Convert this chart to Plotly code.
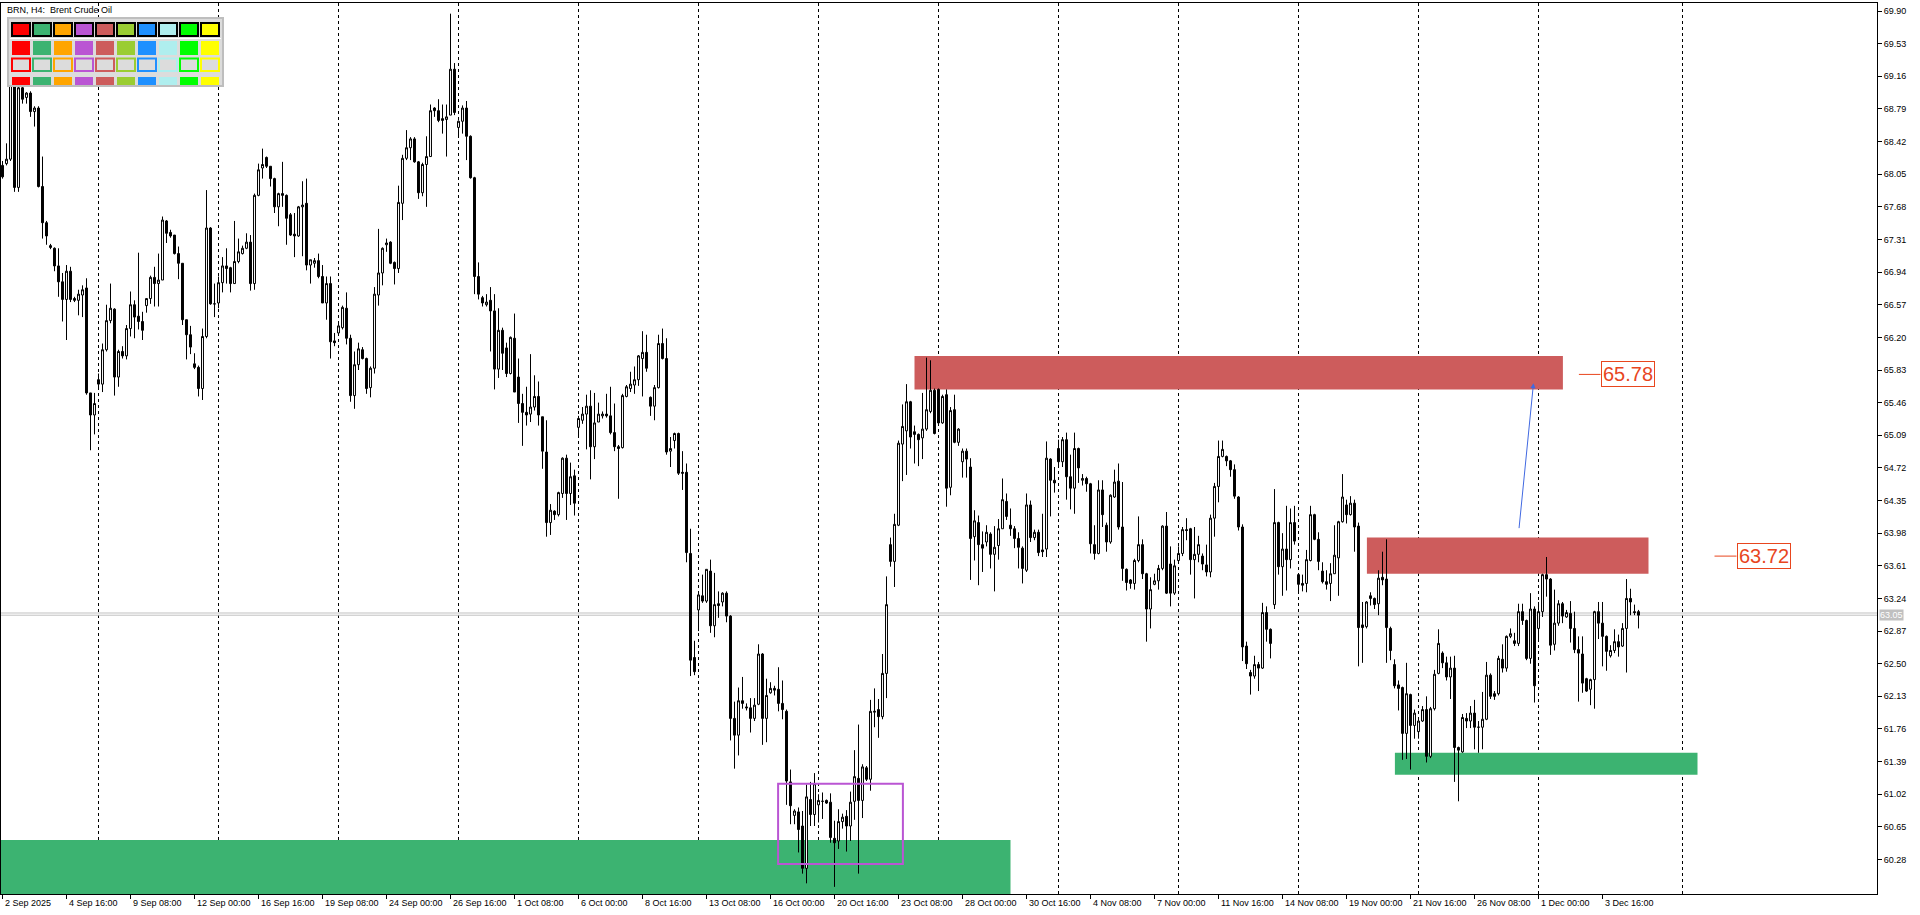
import plotly.graph_objects as go

# ---------------- data (H4 candles) ----------------
O = [68.15,68.17,68.22,69.05,67.90,69.03,68.92,68.97,68.76,68.80,
67.91,67.50,67.24,67.21,67.01,66.83,66.63,66.95,66.64,66.62,
66.68,66.76,65.57,65.32,65.72,65.67,66.06,66.39,66.52,65.75,
66.04,65.99,66.30,66.57,66.44,66.38,66.56,66.64,66.88,66.81,
66.85,67.52,67.39,67.36,67.15,67.04,66.40,66.23,65.90,65.86,
65.62,66.21,67.44,66.58,66.59,66.82,67.01,66.99,66.81,67.06,
67.15,67.21,67.28,66.81,67.81,68.12,68.24,68.14,68.00,67.68,
67.83,67.81,67.59,67.37,67.35,67.68,67.72,67.02,67.04,67.07,
66.89,66.59,66.81,66.16,66.25,66.31,66.53,66.19,65.54,65.89,
66.06,65.96,65.63,65.85,66.68,66.93,67.25,67.28,67.05,66.98,
67.72,68.23,68.35,68.45,68.19,67.84,68.16,68.25,68.80,68.77,
68.68,68.67,68.72,69.24,68.58,68.65,68.80,68.48,68.01,66.89,
66.65,66.57,66.62,66.50,65.84,66.28,66.08,65.79,66.19,65.75,
65.45,65.35,65.33,65.41,65.53,65.30,64.90,64.10,64.23,64.19,
64.43,64.83,64.43,64.63,65.18,65.26,65.33,65.42,64.96,65.24,
65.31,65.33,65.31,65.12,64.96,64.95,65.53,65.62,65.66,65.72,
65.96,66.03,65.52,65.42,65.63,66.13,65.96,64.91,65.03,65.11,
64.67,64.67,63.75,62.57,63.11,63.27,63.21,63.55,62.93,63.18,
63.20,63.30,63.04,61.88,61.69,62.08,62.01,62.00,61.88,62.04,
62.61,61.88,62.17,62.22,62.21,62.05,61.96,61.16,60.78,60.82,
60.66,60.18,60.96,60.79,60.90,60.94,60.95,60.93,60.52,60.49,
60.71,60.77,60.66,60.94,61.20,60.95,61.32,61.19,61.95,61.98,
61.90,62.39,63.85,63.66,64.07,64.99,65.14,65.47,65.13,65.10,
65.06,65.16,65.36,65.60,65.61,65.23,65.55,64.50,65.38,65.01,
64.79,64.91,64.73,63.94,64.10,63.85,63.88,63.97,63.74,63.84,
64.03,64.34,64.07,64.03,63.92,63.81,63.56,64.30,63.93,63.99,
63.79,63.80,64.82,64.58,64.94,64.79,65.04,64.62,64.49,64.94,
64.58,64.60,64.54,63.85,63.75,64.47,64.07,63.88,64.39,64.57,
64.05,63.57,63.45,63.41,63.67,63.85,63.52,63.12,63.40,63.44,
63.58,64.06,63.63,63.30,63.67,63.75,64.02,64.03,63.68,63.74,
63.72,63.62,63.54,64.15,64.51,64.85,64.85,64.80,64.70,64.39,
64.05,62.70,62.40,62.36,62.49,62.45,63.08,62.89,63.17,64.10,
63.60,63.80,63.68,64.10,63.51,63.41,63.41,63.67,64.19,63.91,
63.55,63.43,63.41,63.52,63.70,64.11,64.30,64.19,64.32,64.06,
62.94,62.92,63.27,63.24,63.18,63.48,63.46,62.90,62.49,62.26,
62.23,61.71,62.15,61.80,61.73,61.85,61.98,61.45,61.99,62.39,
62.62,62.51,62.35,62.45,61.55,61.50,61.88,61.85,61.94,61.78,
61.78,61.87,62.37,62.16,62.16,62.55,62.45,62.81,62.76,62.73,
63.09,62.99,62.56,63.12,62.90,63.09,63.51,63.46,62.72,62.96,
63.18,63.03,63.07,62.90,62.66,62.61,62.33,62.21,62.32,63.09,
62.96,62.81,62.59,62.65,62.75,62.70,62.90,63.24,63.09,63.09]

H = [68.20,68.40,69.20,69.20,69.10,69.08,68.98,68.99,68.82,68.82,
68.25,67.52,67.26,67.22,67.21,66.93,67.02,67.00,66.66,66.74,
66.79,66.87,65.57,65.57,65.79,66.13,66.57,66.81,66.53,66.06,
66.10,66.34,66.72,66.62,67.16,66.49,66.64,66.90,67.00,67.15,
67.57,67.53,67.42,67.36,67.23,67.04,66.40,66.33,66.02,65.88,
66.30,67.87,67.45,66.81,66.89,67.11,67.21,67.00,67.52,67.32,
67.24,67.38,67.36,67.83,68.17,68.34,68.25,68.14,68.01,67.84,
68.19,67.82,67.61,67.61,67.69,67.97,68.00,67.08,67.10,67.15,
67.02,66.89,66.89,66.25,66.37,66.56,66.71,66.23,66.04,66.14,
66.09,65.97,65.87,66.77,67.43,67.22,67.32,67.29,67.06,67.92,
68.27,68.55,68.47,68.47,68.20,68.18,68.48,68.84,68.81,68.90,
68.84,68.84,69.87,69.31,68.66,68.83,68.88,68.49,68.02,67.05,
66.67,66.69,66.77,66.69,66.53,66.31,66.14,66.21,66.47,65.96,
65.56,65.64,66.01,65.77,65.70,65.30,65.26,64.31,64.24,64.45,
64.84,64.87,64.78,64.70,65.31,65.41,65.55,65.60,65.57,65.46,
65.36,65.56,65.64,65.45,64.98,65.56,65.66,65.81,65.87,66.00,
66.27,66.23,65.53,65.66,66.23,66.30,66.19,65.07,65.12,65.12,
64.91,64.77,64.03,62.76,63.30,63.51,63.57,63.68,63.53,63.32,
63.31,63.32,63.05,62.07,62.23,62.35,62.05,62.11,62.11,62.72,
62.62,62.33,62.29,62.25,62.46,62.31,61.98,61.30,60.85,60.87,
60.83,61.13,61.16,61.26,61.02,61.04,60.96,61.03,60.72,60.85,
60.80,60.84,61.05,61.52,61.81,61.36,61.34,62.09,62.22,62.10,
62.61,63.49,63.93,64.20,65.03,65.44,65.67,65.48,65.20,65.11,
65.57,65.97,65.94,65.62,65.62,65.55,65.61,65.41,65.55,65.17,
64.94,64.94,64.83,64.24,64.18,64.00,64.07,63.99,64.06,64.14,
64.60,64.43,64.26,64.06,63.99,63.83,64.43,64.35,64.02,64.02,
64.20,65.02,64.83,64.73,65.04,65.07,65.12,64.87,65.12,64.95,
64.65,64.62,64.55,64.07,64.58,64.58,64.10,64.42,64.70,64.77,
64.56,63.58,63.46,63.69,64.17,63.91,63.53,63.48,63.52,63.62,
64.07,64.22,63.83,63.68,63.83,64.05,64.15,64.04,64.05,63.95,
63.75,63.85,64.19,64.55,65.03,65.03,64.86,64.81,64.76,64.40,
64.08,62.75,62.43,62.59,62.52,63.19,63.15,62.90,64.48,64.11,
63.98,64.29,64.26,64.29,63.52,63.51,63.79,64.29,64.20,63.99,
63.65,63.56,63.64,64.07,64.12,64.65,64.36,64.40,64.36,64.10,
63.20,63.21,63.31,63.25,63.56,63.77,63.91,62.92,62.55,62.31,
62.24,62.51,62.16,61.98,61.88,62.02,62.13,62.01,62.43,62.89,
62.64,62.58,62.58,62.59,61.56,61.93,61.94,62.02,62.09,61.85,
62.18,62.52,62.39,62.19,62.59,62.72,62.82,62.90,62.85,63.18,
63.18,63.00,63.30,63.15,63.20,63.52,63.71,63.47,63.34,63.22,
63.20,63.11,63.21,63.09,62.81,62.81,62.34,62.33,63.10,63.20,
63.20,62.82,62.71,62.89,62.83,62.96,63.46,63.35,63.17,63.11]

L = [68.00,68.15,68.20,67.85,67.85,68.85,68.85,68.70,68.59,67.90,
67.32,67.25,67.20,66.95,66.66,66.38,66.17,66.60,66.60,66.45,
66.43,65.55,64.92,65.10,65.62,65.58,66.04,66.36,65.54,65.64,
65.96,65.95,66.21,66.19,66.29,66.17,66.48,66.58,66.55,66.55,
66.85,67.27,67.33,67.14,66.86,66.34,65.95,66.01,65.84,65.53,
65.49,66.19,66.57,66.43,66.53,66.71,66.81,66.71,66.81,67.04,
67.14,67.20,66.73,66.74,67.80,68.00,68.12,67.91,67.61,67.46,
67.68,67.25,67.35,67.11,67.34,67.12,66.96,66.81,66.99,66.87,
66.59,66.40,65.96,66.10,66.23,66.29,66.12,65.47,65.39,65.83,
65.95,65.56,65.52,65.79,66.56,66.79,67.17,67.03,66.80,66.93,
67.53,68.21,68.21,68.18,67.77,67.80,67.68,68.25,68.70,68.64,
68.51,68.25,68.72,68.72,68.48,68.51,68.21,68.00,66.69,66.63,
66.55,66.55,66.04,65.61,65.74,65.83,65.75,65.78,65.58,65.23,
64.97,65.20,65.24,65.37,65.20,64.71,63.94,63.96,64.13,64.17,
64.38,64.13,64.30,64.18,65.06,65.22,64.93,64.59,64.82,65.24,
65.28,65.29,65.10,64.91,64.37,64.94,65.52,65.58,65.56,65.65,
65.53,65.81,65.31,65.26,65.62,65.95,64.87,64.73,64.94,64.64,
64.47,63.65,62.36,62.37,62.87,63.19,63.19,62.85,62.80,63.02,
63.15,62.97,61.63,61.31,61.46,61.99,61.97,61.72,61.85,62.03,
61.58,61.61,62.16,62.14,61.96,61.87,60.90,60.68,60.68,60.36,
60.12,60.01,60.66,60.66,60.70,60.74,60.91,60.47,59.97,60.40,
60.63,60.37,60.49,60.73,60.12,60.75,61.17,61.06,61.78,61.66,
61.87,62.11,63.60,63.37,64.06,64.57,64.64,64.94,64.77,64.74,
64.82,65.14,65.34,65.10,65.20,65.22,64.28,64.41,65.00,64.97,
64.61,64.61,63.45,63.67,63.39,63.54,63.83,63.58,63.32,63.68,
64.03,64.13,63.95,63.81,63.58,63.41,63.54,63.88,63.90,63.72,
63.71,63.71,64.17,64.44,64.73,64.73,64.36,64.25,64.20,64.55,
64.52,64.45,63.75,63.68,63.74,64.05,63.77,63.86,64.38,64.02,
63.44,63.33,63.35,63.34,63.65,63.46,62.75,62.90,63.39,63.34,
63.56,63.29,63.15,63.28,63.65,63.72,63.90,63.51,63.24,63.65,
63.56,63.49,63.48,63.94,64.33,64.84,64.74,64.62,64.37,64.01,
62.53,62.44,62.15,62.33,62.19,62.44,62.75,62.56,63.12,63.51,
63.27,63.33,63.58,63.85,63.32,63.32,63.31,63.66,63.90,63.56,
63.41,63.34,63.21,63.52,63.27,64.10,64.09,64.18,63.77,62.47,
62.51,62.90,63.16,63.12,63.05,63.39,62.51,62.54,62.22,61.97,
61.41,61.42,61.30,61.65,61.65,61.84,61.38,61.43,61.97,62.38,
62.45,62.31,62.10,61.16,60.94,61.49,61.77,61.77,61.53,61.49,
61.53,61.86,62.10,62.09,62.14,62.40,62.41,62.79,62.70,62.70,
62.94,62.54,62.50,62.06,62.76,63.03,63.26,62.60,62.65,62.93,
62.96,63.02,62.74,62.62,62.07,62.17,62.18,62.03,61.99,62.78,
62.47,62.42,62.57,62.62,62.58,62.69,62.40,63.05,63.05,62.90]

C = [68.02,68.22,69.08,67.90,69.03,68.90,68.97,68.76,68.80,67.91,
67.50,67.35,67.22,67.01,66.83,66.63,66.95,66.63,66.62,66.69,
66.74,65.57,65.32,65.45,65.67,66.06,66.39,66.53,65.75,66.04,
65.99,66.30,66.57,66.43,66.38,66.28,66.64,66.88,66.81,66.85,
67.53,67.38,67.35,67.15,67.04,66.40,66.23,66.09,65.86,65.62,
66.21,67.44,66.58,66.58,66.82,67.01,66.98,66.81,67.06,67.17,
67.21,67.28,66.81,67.81,68.10,68.16,68.14,68.00,67.68,67.83,
67.81,67.55,67.36,67.35,67.68,67.70,67.02,67.08,67.07,66.89,
66.59,66.81,66.15,66.14,66.33,66.54,66.19,65.54,65.89,66.07,
65.96,65.62,65.85,66.69,66.93,67.21,67.27,67.04,66.98,67.73,
68.23,68.35,68.45,68.19,67.84,68.16,68.25,68.77,68.77,68.66,
68.66,68.70,69.24,68.75,68.65,68.80,68.48,68.01,66.89,66.69,
66.59,66.60,66.50,65.84,66.28,66.02,65.79,66.20,65.58,65.45,
65.35,65.32,65.41,65.53,65.32,64.91,64.10,64.24,64.19,64.44,
64.83,64.43,64.62,64.32,65.28,65.33,65.42,64.96,65.23,65.33,
65.33,65.31,65.12,64.96,64.94,65.54,65.64,65.67,65.72,65.99,
66.03,65.85,65.42,65.63,66.13,65.96,64.90,64.94,65.11,64.66,
64.66,63.76,62.54,62.41,63.28,63.21,63.57,62.93,63.17,63.16,
63.30,63.04,61.88,61.69,62.08,62.05,62.00,61.88,62.03,62.61,
61.88,62.14,62.22,62.20,62.05,61.98,61.17,60.89,60.83,60.62,
60.18,60.99,60.79,61.14,60.95,60.94,60.92,60.53,60.47,60.71,
60.76,60.66,60.93,61.22,60.95,61.33,61.19,61.96,61.96,61.90,
62.39,63.17,63.66,64.08,65.00,65.19,65.47,65.07,65.10,65.04,
65.16,65.38,65.60,65.11,65.23,65.53,64.49,65.37,65.01,65.16,
64.91,64.82,63.92,64.12,63.85,63.81,63.99,63.74,63.82,64.03,
64.36,64.17,64.03,63.92,63.82,63.58,64.30,63.93,63.99,63.76,
63.77,64.83,64.58,64.55,64.79,65.04,64.62,64.49,64.94,64.72,
64.60,64.54,63.86,63.75,64.47,64.19,63.88,64.41,64.56,64.05,
63.58,63.42,63.41,63.67,63.85,63.52,63.12,63.34,63.44,63.58,
64.06,63.30,63.30,63.61,63.75,64.02,64.01,63.68,63.74,63.85,
63.63,63.54,64.15,64.51,64.85,64.93,64.80,64.70,64.40,64.05,
62.69,62.50,62.36,62.49,62.45,63.08,62.89,62.73,64.10,63.60,
63.80,63.68,64.10,63.89,63.40,63.39,63.68,64.19,63.91,63.66,
63.43,63.40,63.52,63.73,64.11,64.39,64.19,64.32,64.05,62.91,
62.91,63.20,63.24,63.17,63.47,63.45,62.91,62.65,62.25,62.22,
61.71,62.16,61.80,61.94,61.85,61.98,61.45,61.99,62.38,62.73,
62.51,62.35,62.45,61.55,61.52,61.89,61.85,61.94,61.78,61.78,
61.87,62.37,62.13,62.13,62.56,62.45,62.81,62.84,62.73,63.09,
62.99,62.56,63.12,62.25,63.09,63.51,63.46,62.71,62.96,63.18,
63.04,63.08,62.90,62.66,62.62,62.28,62.19,62.32,63.09,62.96,
62.81,62.64,62.65,62.75,62.69,62.90,63.24,63.20,63.08,63.05]

BARS = list(range(len(C)))

X_LABELS = ["2 Sep 2025", "4 Sep 16:00", "9 Sep 08:00", "12 Sep 00:00", "16 Sep 16:00",
            "19 Sep 08:00", "24 Sep 00:00", "26 Sep 16:00", "1 Oct 08:00", "6 Oct 00:00",
            "8 Oct 16:00", "13 Oct 08:00", "16 Oct 00:00", "20 Oct 16:00", "23 Oct 08:00",
            "28 Oct 00:00", "30 Oct 16:00", "4 Nov 08:00", "7 Nov 00:00", "11 Nov 16:00",
            "14 Nov 08:00", "19 Nov 00:00", "21 Nov 16:00", "26 Nov 08:00", "1 Dec 00:00",
            "3 Dec 16:00"]
X_LABEL_BARS = [16 * k for k in range(len(X_LABELS))]

Y_TICKS = [60.28, 60.65, 61.02, 61.39, 61.76, 62.13, 62.50, 62.87, 63.24, 63.61, 63.98,
           64.35, 64.72, 65.09, 65.46, 65.83, 66.20, 66.57, 66.94, 67.31, 67.68, 68.05,
           68.42, 68.79, 69.16, 69.53, 69.90]

WEEK_GRID_BARS = [24, 54, 84, 114, 144, 174, 204, 234, 264, 294, 324, 354, 384, 420]

BID = 63.05
ASK = 63.075

# zones: (bar_from, bar_to, price_low, price_high, colour)
ZONES = [
    (-0.5, 252.0, 59.70, 60.50, "#3CB371"),
    (228.0, 390.1, 65.61, 65.99, "#CD5C5C"),
    (341.1, 411.5, 63.52, 63.93, "#CD5C5C"),
    (348.1, 423.75, 61.24, 61.49, "#3CB371"),
]
BOX = (193.9, 225.1, 60.23, 61.14)
ARROW = (379.1, 64.02, 382.75, 65.68)
LEVELS = [(65.78, 394.1, 399.5), (63.72, 428.0, 433.5)]

PALETTE = ["#FF0000", "#3CB371", "#FFA500", "#BA55D3", "#CD5C5C",
           "#9ACD32", "#1E90FF", "#AFEEEE", "#00FF00", "#FFFF00"]

# ---------------- figure ----------------
W, HGT = 1920, 915
ML, MR, MT, MB = 1, 43, 3, 21
PW, PH = W - ML - MR, HGT - MT - MB
X_RANGE = [-0.375, 468.625]   # 4 px per bar, bar centres on half pixels (crisp wicks)


def px(xf):
    return (xf - ML) / PW


def py(yf):
    return 1 - (yf - MT) / PH


FONT = "Liberation Sans, Arial, sans-serif"
LBL = "#E8461E"

fig = go.Figure(go.Candlestick(
    x=BARS, open=O, high=H, low=L, close=C,
    increasing=dict(line=dict(color="black", width=1), fillcolor="white"),
    decreasing=dict(line=dict(color="black", width=1), fillcolor="black"),
    whiskerwidth=0, hoverinfo="skip"))

shapes = []
for x0, x1, y0, y1, col in ZONES:
    shapes.append(dict(type="rect", xref="x", yref="y", x0=x0, x1=x1, y0=y0, y1=y1,
                       fillcolor=col, line=dict(width=0), layer="below"))
for b in WEEK_GRID_BARS:
    shapes.append(dict(type="line", xref="x", yref="paper", x0=b, x1=b, y0=0, y1=1,
                       line=dict(color="black", width=1, dash="3px,3px"), layer="below"))
for lvl in (BID, ASK):
    shapes.append(dict(type="line", xref="paper", yref="y", x0=0, x1=1, y0=lvl, y1=lvl,
                       line=dict(color="#C0C0C0", width=1), layer="below"))
shapes.append(dict(type="rect", xref="x", yref="y", x0=BOX[0], x1=BOX[1], y0=BOX[2], y1=BOX[3],
                   line=dict(color="#BA55D3", width=2), fillcolor="rgba(0,0,0,0)"))
for val, xa, xb in LEVELS:
    shapes.append(dict(type="line", xref="x", yref="y", x0=xa, x1=xb, y0=val, y1=val,
                       line=dict(color=LBL, width=1)))

# colour palette panel (top-left)
shapes.append(dict(type="rect", xref="paper", yref="paper", x0=px(8), x1=px(223), y0=py(86), y1=py(18),
                   fillcolor="#DCDCDC", line=dict(color="#BEBEBE", width=2), layer="above"))
shapes.append(dict(type="line", xref="paper", yref="paper", x0=px(10), x1=px(221), y0=py(38.5), y1=py(38.5),
                   line=dict(color="#FFFFFF", width=1), layer="above"))
for i, col in enumerate(PALETTE):
    xa, xb = px(12 + 21 * i), px(30 + 21 * i)
    shapes.append(dict(type="rect", xref="paper", yref="paper", x0=xa, x1=xb, y0=py(36), y1=py(23),
                       fillcolor=col, line=dict(color="black", width=2), layer="above"))
    shapes.append(dict(type="rect", xref="paper", yref="paper", x0=xa, x1=xb, y0=py(55), y1=py(41),
                       fillcolor=col, line=dict(width=0), layer="above"))
    shapes.append(dict(type="rect", xref="paper", yref="paper", x0=xa, x1=xb, y0=py(71), y1=py(58.5),
                       fillcolor="#DCDCDC", line=dict(color=col, width=2), layer="above"))
    shapes.append(dict(type="rect", xref="paper", yref="paper", x0=xa, x1=xb, y0=py(85), y1=py(77),
                       fillcolor=col, line=dict(width=0), layer="above"))

annotations = []
annotations.append(dict(xref="paper", yref="paper", x=px(5), y=py(3), xanchor="left", yanchor="top",
                        text="BRN, H4:\u00a0 Brent Crude Oil", showarrow=False,
                        font=dict(family=FONT, size=9, color="black")))
for b, t in zip(X_LABEL_BARS, X_LABELS):
    annotations.append(dict(xref="x", yref="paper", x=b, y=0, xanchor="left", yanchor="top",
                            xshift=0, yshift=-2, text=t, showarrow=False,
                            font=dict(family=FONT, size=9, color="black")))
annotations.append(dict(xref="paper", yref="y", x=1, y=BID, xanchor="left", yanchor="middle",
                        xshift=2, text="%.2f" % BID, showarrow=False, bgcolor="#C0C0C0",
                        borderpad=0, font=dict(family=FONT, size=9, color="white")))
for val, xa, xb in LEVELS:
    annotations.append(dict(xref="x", yref="y", x=xb, y=val, xanchor="left", yanchor="middle",
                            text="%.2f" % val, showarrow=False, bordercolor=LBL, borderwidth=1,
                            borderpad=1, bgcolor="white",
                            font=dict(family=FONT, size=20, color=LBL)))
annotations.append(dict(xref="x", yref="y", axref="x", ayref="y", x=ARROW[2], y=ARROW[3],
                        ax=ARROW[0], ay=ARROW[1], text="", showarrow=True, arrowhead=2,
                        arrowsize=1, arrowwidth=1, arrowcolor="#4169E1"))

fig.update_layout(
    width=W, height=HGT, margin=dict(l=ML, r=MR, t=MT, b=MB, pad=0),
    paper_bgcolor="white", plot_bgcolor="white", showlegend=False, hovermode=False,
    shapes=shapes, annotations=annotations,
    xaxis=dict(range=X_RANGE, showgrid=False, zeroline=False, showline=True,
               linecolor="black", linewidth=1, mirror=True, ticks="outside", ticklen=4,
               tickcolor="black", tickvals=X_LABEL_BARS, showticklabels=False,
               rangeslider=dict(visible=False), fixedrange=True),
    yaxis=dict(range=[59.889, 69.991], side="right", showgrid=False, zeroline=False,
               showline=True, linecolor="black", linewidth=1, mirror=True, ticks="outside",
               ticklen=4, tickcolor="black", tickvals=Y_TICKS,
               ticktext=["%.2f" % v for v in Y_TICKS],
               tickfont=dict(family=FONT, size=9, color="black"), fixedrange=True),
)

fig.write_html("out.html", config={"displayModeBar": False},
               post_script="document.body.style.margin='0';document.body.style.overflow='hidden';")
